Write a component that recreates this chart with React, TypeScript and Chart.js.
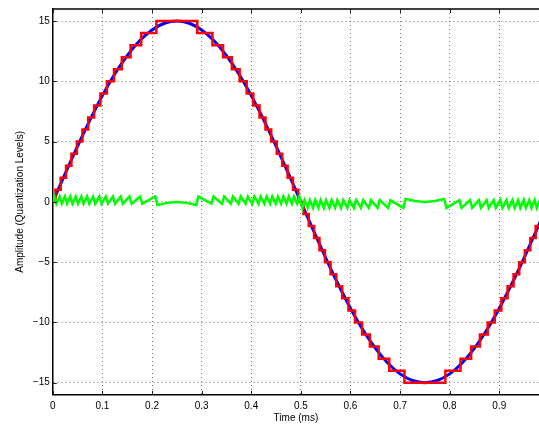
import React, { useEffect, useRef } from 'react';
import { Chart, registerables } from 'chart.js';

Chart.register(...registerables);

// Time axis in ms
const sineTimes = [
  0, 0.025, 0.05, 0.075, 0.1, 0.125, 0.15, 0.175, 0.2, 0.225, 0.25, 0.275, 0.3, 0.325, 0.35, 0.375, 0.4, 0.425, 0.45, 0.475,
  0.5, 0.525, 0.55, 0.575, 0.6, 0.625, 0.65, 0.675, 0.7, 0.725, 0.75, 0.775, 0.8, 0.825, 0.85, 0.875, 0.9, 0.925, 0.95, 0.975, 1.0,
];
const sineValues = [
  0, 2.346, 4.635, 6.81, 8.817, 10.607, 12.135, 13.365, 14.266, 14.815, 15, 14.815, 14.266, 13.365, 12.135, 10.607, 8.817, 6.81, 4.635, 2.346,
  0, -2.346, -4.635, -6.81, -8.817, -10.607, -12.135, -13.365, -14.266, -14.815, -15, -14.815, -14.266, -13.365, -12.135, -10.607, -8.817, -6.81, -4.635, -2.346, 0,
];

// Quantized staircase: time at which each level starts
const stepTimes = [
  0, 0.0053, 0.0159, 0.0267, 0.0375, 0.0485, 0.0598, 0.0713, 0.0833, 0.0959, 0.1091, 0.1234, 0.1391, 0.1568, 0.1782, 0.2088,
  0.2912, 0.3218, 0.3432, 0.3609, 0.3766, 0.3908, 0.4041, 0.4167, 0.4287, 0.4402, 0.4515, 0.4625, 0.4733, 0.4841, 0.4947,
  0.5053, 0.5159, 0.5267, 0.5375, 0.5485, 0.5598, 0.5713, 0.5833, 0.5959, 0.6091, 0.6234, 0.6391, 0.6568, 0.6782, 0.7088,
  0.7912, 0.8218, 0.8432, 0.8609, 0.8766, 0.8908, 0.9041, 0.9167, 0.9287, 0.9402, 0.9515, 0.9625, 0.9733, 0.9841, 1.0,
];
const stepLevels = [
  0, 1, 2, 3, 4, 5, 6, 7, 8, 9, 10, 11, 12, 13, 14, 15,
  14, 13, 12, 11, 10, 9, 8, 7, 6, 5, 4, 3, 2, 1, 0,
  -1, -2, -3, -4, -5, -6, -7, -8, -9, -10, -11, -12, -13, -14, -15,
  -14, -13, -12, -11, -10, -9, -8, -7, -6, -5, -4, -3, -2, -1, -1,
];

// Quantization error
const errTimes = [
  0,
  0.0031, 0.0075, 0.0137, 0.0181, 0.0245, 0.0289, 0.0353, 0.0397, 0.0463, 0.0507, 0.0576, 0.062, 0.0691, 0.0735,
  0.0811, 0.0855, 0.0937, 0.0981, 0.1069, 0.1113, 0.1212, 0.1256, 0.1369, 0.1413, 0.1546, 0.159, 0.176, 0.1804, 0.2066, 0.211,
  0.23, 0.25, 0.27, 0.289,
  0.2934, 0.3196, 0.324, 0.341, 0.3454, 0.3587, 0.3631, 0.3744, 0.3788, 0.3886, 0.393, 0.4019, 0.4063, 0.4145, 0.4189,
  0.4265, 0.4309, 0.438, 0.4424, 0.4493, 0.4537, 0.4603, 0.4647, 0.4711, 0.4755, 0.4819, 0.4863, 0.4925, 0.4969,
  0.5031, 0.5075, 0.5137, 0.5181, 0.5245, 0.5289, 0.5353, 0.5397, 0.5463, 0.5507, 0.5576, 0.562, 0.5691, 0.5735,
  0.5811, 0.5855, 0.5937, 0.5981, 0.6069, 0.6113, 0.6212, 0.6256, 0.6369, 0.6413, 0.6546, 0.659, 0.676, 0.6804, 0.7066, 0.711,
  0.73, 0.75, 0.77, 0.789,
  0.7934, 0.8196, 0.824, 0.841, 0.8454, 0.8587, 0.8631, 0.8744, 0.8788, 0.8886, 0.893, 0.9019, 0.9063, 0.9145, 0.9189,
  0.9265, 0.9309, 0.938, 0.9424, 0.9493, 0.9537, 0.9603, 0.9647, 0.9711, 0.9755, 0.9819, 0.9863,
];
const errValues = [
  0,
  0.45, -0.15, 0.45, -0.15, 0.45, -0.15, 0.45, -0.15, 0.45, -0.15, 0.45, -0.15, 0.45, -0.15,
  0.45, -0.15, 0.45, -0.15, 0.45, -0.15, 0.45, -0.15, 0.45, -0.15, 0.45, -0.15, 0.45, -0.15, 0.45, -0.25,
  -0.08, 0, -0.08, -0.25,
  0.45, -0.15, 0.45, -0.15, 0.45, -0.15, 0.45, -0.15, 0.45, -0.15, 0.45, -0.15, 0.45, -0.15, 0.45,
  -0.15, 0.45, -0.15, 0.45, -0.15, 0.45, -0.15, 0.45, -0.15, 0.45, -0.15, 0.45, -0.15, 0.45,
  -0.5, 0.15, -0.5, 0.15, -0.5, 0.15, -0.5, 0.15, -0.5, 0.15, -0.5, 0.15, -0.5, 0.15,
  -0.5, 0.15, -0.5, 0.15, -0.5, 0.15, -0.5, 0.15, -0.5, 0.15, -0.5, 0.15, -0.5, 0.15, -0.5, 0.25,
  0.08, 0, 0.08, 0.25,
  -0.5, 0.15, -0.5, 0.15, -0.5, 0.15, -0.5, 0.15, -0.5, 0.15, -0.5, 0.15, -0.5, 0.15, -0.5,
  0.15, -0.5, 0.15, -0.5, 0.15, -0.5, 0.15, -0.5, 0.15, -0.5, 0.15, -0.5,
];

const xTicks = [0, 0.1, 0.2, 0.3, 0.4, 0.5, 0.6, 0.7, 0.8, 0.9];
const yTicks = [-15, -10, -5, 0, 5, 10, 15];

const FONT = 'Liberation Sans, Arial, Helvetica, sans-serif';

const framePlugin = {
  id: 'frame',
  afterDraw(chart: any) {
    const { ctx, chartArea: a, scales } = chart;
    const x = scales.x;
    const y = scales.y;
    ctx.save();
    ctx.strokeStyle = '#000';
    ctx.lineWidth = 1.5;
    ctx.beginPath();
    ctx.moveTo(a.left, a.top);
    ctx.lineTo(a.right, a.top);
    ctx.stroke();
    ctx.lineWidth = 1;
    ctx.strokeStyle = '#222';
    ctx.beginPath();
    xTicks.forEach((v) => {
      const px = Math.round(x.getPixelForValue(v)) + 0.5;
      ctx.moveTo(px, a.bottom);
      ctx.lineTo(px, a.bottom - 4);
      ctx.moveTo(px, a.top);
      ctx.lineTo(px, a.top + 4);
    });
    yTicks.forEach((v) => {
      const py = Math.round(y.getPixelForValue(v)) + 0.5;
      ctx.moveTo(a.left, py);
      ctx.lineTo(a.left + 4, py);
    });
    ctx.stroke();
    ctx.restore();
  },
};

export default function App() {
  const ref = useRef<HTMLCanvasElement | null>(null);

  useEffect(() => {
    document.body.style.margin = '0';
    const canvas = ref.current;
    if (!canvas) return;

    const blue = sineTimes.map((t, i) => ({ x: t, y: sineValues[i] }));
    const red = stepTimes.map((t, i) => ({ x: t, y: stepLevels[i] }));
    const green = errTimes.map((t, i) => ({ x: t, y: errValues[i] }));

    const chart = new Chart(canvas, {
      type: 'line',
      data: {
        datasets: [
          {
            label: 'Error',
            data: green,
            borderColor: '#00ff00',
            borderWidth: 2.5,
            pointRadius: 0,
            fill: false,
            order: 1,
          },
          {
            label: 'Quantized',
            data: red,
            borderColor: '#ff0000',
            borderWidth: 2.5,
            pointRadius: 0,
            stepped: 'before',
            fill: false,
            order: 2,
          },
          {
            label: 'Signal',
            data: blue,
            borderColor: '#0000ff',
            borderWidth: 3,
            pointRadius: 0,
            cubicInterpolationMode: 'monotone',
            fill: false,
            order: 3,
          },
        ],
      },
      options: {
        responsive: false,
        animation: false,
        maintainAspectRatio: false,
        layout: { padding: { top: 4.5, right: 0, left: 0, bottom: 0 } },
        plugins: { legend: { display: false }, tooltip: { enabled: false } },
        scales: {
          x: {
            type: 'linear',
            min: 0,
            max: 0.98,
            afterBuildTicks: (s: any) => {
              s.ticks = xTicks.map((v) => ({ value: v }));
            },
            afterFit: (s: any) => {
              s.height = 32.2;
            },
            ticks: {
              color: '#000',
              font: { family: FONT, size: 10 },
              padding: 5,
              maxRotation: 0,
              autoSkip: false,
              callback: (v: any) => String(v),
            },
            grid: { color: 'rgba(0,0,0,0.55)', lineWidth: 1, drawTicks: false },
            border: { display: true, color: '#000', width: 1.5, dash: [1, 3] },
            title: {
              display: true,
              text: 'Time (ms)',
              color: '#000',
              font: { family: FONT, size: 10 },
              padding: { top: 0, bottom: 2.5 },
            },
          },
          y: {
            type: 'linear',
            min: -16,
            max: 16,
            afterBuildTicks: (s: any) => {
              s.ticks = yTicks.map((v) => ({ value: v }));
            },
            afterFit: (s: any) => {
              s.width = 52.8;
            },
            ticks: {
              color: '#000',
              font: { family: FONT, size: 10 },
              padding: 3,
              autoSkip: false,
              callback: (v: any) => (v < 0 ? '\u2212' + Math.abs(v) : String(v)),
            },
            grid: { color: 'rgba(0,0,0,0.55)', lineWidth: 1, drawTicks: false },
            border: { display: true, color: '#000', width: 1.5, dash: [1, 3] },
            title: {
              display: true,
              text: 'Amplitude (Quantization Levels)',
              color: '#000',
              font: { family: FONT, size: 10 },
              padding: { top: 14, bottom: 0 },
            },
          },
        },
      },
      plugins: [framePlugin],
    } as any);

    return () => chart.destroy();
  }, []);

  return <canvas ref={ref} width={539} height={427} style={{ display: 'block', width: 539, height: 427 }} />;
}
